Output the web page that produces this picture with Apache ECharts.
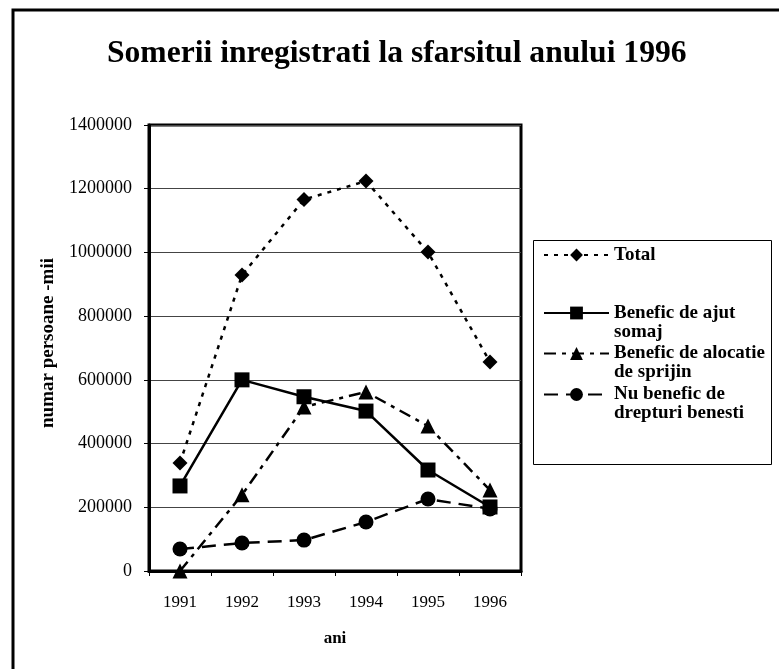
<!DOCTYPE html>
<html>
<head>
<meta charset="utf-8">
<script src="https://cdn.jsdelivr.net/npm/echarts@6/dist/echarts.min.js"></script>
<style>
  html, body { margin: 0; padding: 0; background: #fff; }
  #chart { width: 779px; height: 669px; }
</style>
</head>
<body>
<div id="chart"></div>
<script>
// ani
const years = ['1991', '1992', '1993', '1994', '1995', '1996']
// numar persoane
const total = [339000, 929000, 1166000, 1224000, 1001000, 656000]
const ajutSomaj = [267000, 600000, 547000, 502000, 317000, 201000]
const alocatieSprijin = [0, 239000, 515000, 562000, 455000, 254000]
const faraDrepturi = [69000, 88000, 97000, 154000, 226000, 195000]

// legend texts, split on two lines like in the original
const legendText = {
  'Total': 'Total',
  'Benefic de ajut somaj': 'Benefic de ajut\nsomaj',
  'Benefic de alocatie de sprijin': 'Benefic de alocatie\nde sprijin',
  'Nu benefic de drepturi benesti': 'Nu benefic de\ndrepturi benesti'
}

const FONT = '"Liberation Serif", "Times New Roman", serif'

const chart = echarts.init(document.getElementById('chart'))

// one legend per item so each sits where the original has it
function legendItem(name, top) {
  return {
    orient: 'vertical',
    left: 543,
    top: top,
    padding: 0,
    itemWidth: 65,
    itemHeight: 16,
    selectedMode: false,
    data: [name],
    // blank first line -> first real line lines up with the icon
    formatter: n => legendText[n].indexOf('\n') >= 0 ? ' \n' + legendText[n] : legendText[n],
    textStyle: {
      fontFamily: FONT,
      fontWeight: 'bold',
      fontSize: 19,
      color: '#000',
      lineHeight: 19
    }
  }
}

chart.setOption({
  backgroundColor: '#fff',
  animation: false,
  title: {
    text: 'Somerii inregistrati la sfarsitul anului 1996',
    left: 107,
    top: 38,
    padding: 0,
    textStyle: { fontFamily: FONT, fontWeight: 'bold', fontSize: 31.6, color: '#000' }
  },
  legend: [
    legendItem('Total', 245.5),
    legendItem('Benefic de ajut somaj', 284.5),
    legendItem('Benefic de alocatie de sprijin', 325),
    legendItem('Nu benefic de drepturi benesti', 366)
  ],
  graphic: [
    {
      type: 'rect',
      shape: { x: 13, y: 10, width: 800, height: 700 },
      style: { fill: 'none', stroke: '#000', lineWidth: 3 },
      silent: true
    },
    {
      type: 'rect',
      shape: { x: 533.5, y: 240.5, width: 238, height: 224 },
      style: { fill: 'none', stroke: '#000', lineWidth: 1 },
      silent: true
    }
  ],
  grid: {
    left: 149,
    right: 258,
    top: 125,
    bottom: 98,
    show: true,
    borderColor: '#000',
    borderWidth: 3
  },
  xAxis: {
    type: 'category',
    data: years,
    boundaryGap: true,
    name: 'ani',
    nameLocation: 'middle',
    nameGap: 59,
    nameTextStyle: { fontFamily: FONT, fontWeight: 'bold', fontSize: 17, color: '#000' },
    axisLine: { lineStyle: { color: '#000', width: 3 } },
    axisTick: { show: true, alignWithLabel: false, length: 5, lineStyle: { color: '#000', width: 1 } },
    axisLabel: { margin: 23, fontFamily: FONT, fontSize: 17, color: '#000' },
    splitLine: { show: false }
  },
  yAxis: {
    type: 'value',
    min: 0,
    max: 1400000,
    interval: 200000,
    name: 'numar persoane -mii',
    nameLocation: 'middle',
    nameRotate: 90,
    nameGap: 91,
    nameTextStyle: { fontFamily: FONT, fontWeight: 'bold', fontSize: 19, color: '#000', padding: [0, 0, 0, 10] },
    axisLine: { show: true, lineStyle: { color: '#000', width: 3 } },
    axisTick: { show: true, length: 5, lineStyle: { color: '#000', width: 1 } },
    axisLabel: { margin: 17, fontFamily: FONT, fontSize: 18, color: '#000', formatter: v => String(v) },
    splitLine: { lineStyle: { color: '#444', width: 1 } }
  },
  series: [
    {
      name: 'Total',
      type: 'line',
      data: total,
      symbol: 'diamond',
      symbolSize: 15,
      itemStyle: { color: '#000' },
      lineStyle: { color: '#000', width: 2.5, type: [4, 6] },
      z: 5
    },
    {
      name: 'Benefic de ajut somaj',
      type: 'line',
      data: ajutSomaj,
      symbol: 'rect',
      symbolSize: 15,
      itemStyle: { color: '#000' },
      lineStyle: { color: '#000', width: 2.5, type: 'solid' },
      z: 4
    },
    {
      name: 'Benefic de alocatie de sprijin',
      type: 'line',
      data: alocatieSprijin,
      symbol: 'triangle',
      symbolSize: 15,
      itemStyle: { color: '#000' },
      lineStyle: { color: '#000', width: 2.5, type: [12, 6, 4, 6] },
      z: 3
    },
    {
      name: 'Nu benefic de drepturi benesti',
      type: 'line',
      data: faraDrepturi,
      symbol: 'circle',
      symbolSize: 15,
      itemStyle: { color: '#000' },
      lineStyle: { color: '#000', width: 2.5, type: [14, 8] },
      z: 2
    }
  ]
})
</script>
</body>
</html>
